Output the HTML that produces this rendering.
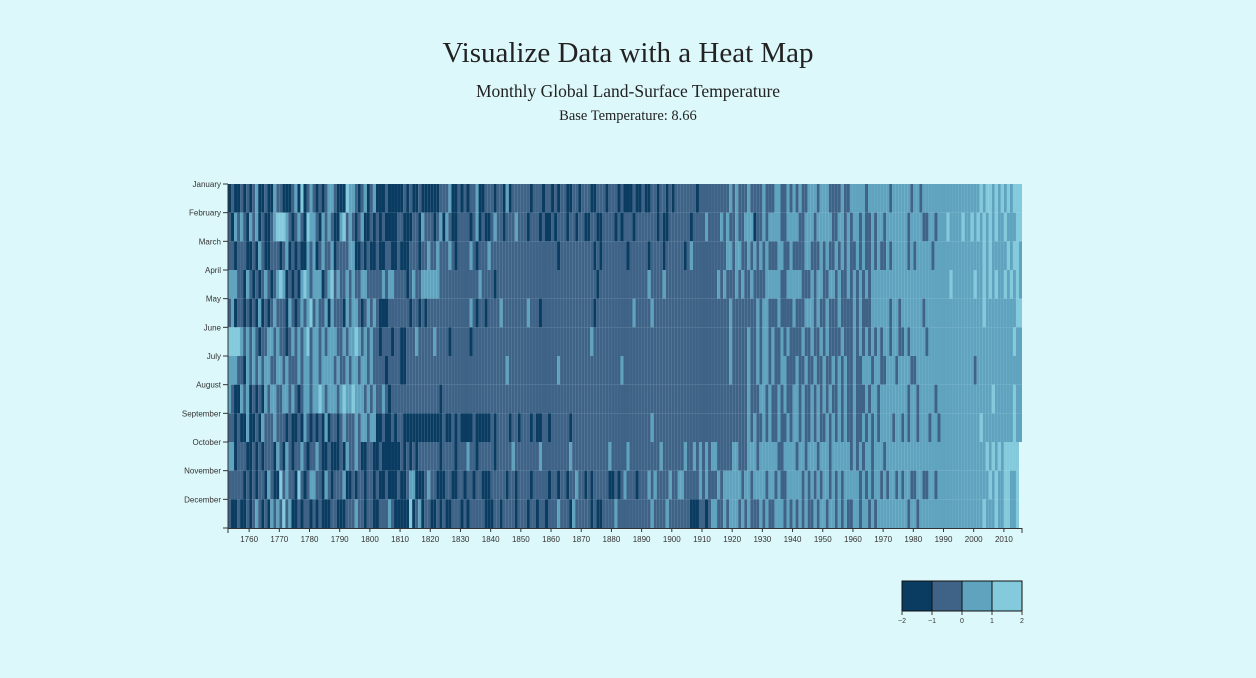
<!DOCTYPE html>
<html><head><meta charset="utf-8"><title>Heat Map</title>
<style>
html,body{margin:0;padding:0;background:#ddf8fa;width:1256px;height:678px;overflow:hidden}
.t{position:absolute;left:0;width:1256px;text-align:center;font-family:"Liberation Serif",serif;color:#222}
svg{position:absolute;left:0;top:0}
svg text{font-family:"Liberation Sans",sans-serif;fill:#333}
</style></head><body>
<div class="t" style="top:37px;font-size:29px">Visualize Data with a Heat Map</div>
<div class="t" style="top:81px;font-size:17.5px">Monthly Global Land-Surface Temperature</div>
<div class="t" style="top:108px;font-size:14.5px">Base Temperature: 8.66</div>
<svg id="chart" width="1256" height="678"></svg>
<script>
const months=["January","February","March","April","May","June","July","August","September","October","November","December"];
const yearTicks=[1760,1770,1780,1790,1800,1810,1820,1830,1840,1850,1860,1870,1880,1890,1900,1910,1920,1930,1940,1950,1960,1970,1980,1990,2000,2010];
const legendTicks=[-2,-1,0,1,2];
const binVariance=[-1.5,-0.5,0.5,1.5];
const startYear=1753;
const endYear=2015;
// per-month code strings (0 coldest .. 3 warmest), one char per year from 1753
const jan=["0100101","0120010021","1000120301","2101012210","0032210120","1200010000","0101001000","0001112001","0101120011","1011020111","1110111011","0101100110","1110011101","1101000100","1001101101","0111111101","1111111112","1211121111","2111221121","2121122212","2211112112","2222122222","2212222221","2212222222","2222222222","2232332323","232333"].join("");
const feb=["1021210","2120100123","3321012103","2210212100","2312101200","1010100001","1000110211","1012021001","1110120100","1211011121","1101110100","1011101101","1001100111","1010111011","1111101001","1111110111","1211112121","1211222011","2122221122","2211222122","2221122121","2212112122","1222222212","2221122122","2322223223","2323232322","322233"].join("");
const mar=["1101110","0102100111","0120101002","1201211201","1112200101","0010011001","0001110112","1121112101","1112101112","1111111111","1111111111","1101111111","1111010111","1111101111","1101111011","1111012111","1111111122","1221121212","1211122112","1111221112","1211212121","1212112121","1212222212","1222221222","2222222222","2223232222","232332"].join("");
const apr=["2221102","1010121012","3201010232","1222012312","1121211221","1111212211","1101211222","2221111111","1111112111","1011111111","1111111111","1111111111","1111101111","1111111111","1121111211","1111111111","1111121211","1212112111","1222221122","2221112122","1122121121","2121212222","2222222222","2222222222","2232222222","3223232322","323232"].join("");
const may=["1201101","0102010121","1102101212","3121120211","1021221012","1210001111","1110110101","1111111111","1112101101","1112111111","1121110111","1111111111","1111011111","1111111211","1112111111","1111111111","1111111112","1111111121","2211121111","2111222121","1211121111","2121112222","2212212222","2221222222","2222222222","2223222222","222233"].join("");
const jun=["3333212","1210112212","1101212123","1221212221","1212232121","2110111011","0011121111","1211110111","1110111111","1111111111","1111111111","1111111111","1112111111","1111111111","1111111111","1111111111","1111111112","1111121121","2212112121","1112112112","1211112111","2121212121","2212211212","2222122222","2222222222","2222222222","222322"].join("");
const jul=["2221102","1212122112","2121112122","1221222212","1121221221","2111101111","0011111111","1111111111","1111111111","1111121111","1111111111","1121111111","1111111111","1112111111","1111111111","1111111111","1111111112","1111121121","2212112211","1211211211","2112121211","2112221221","1222122221","1222222222","2222222222","1222222222","222222"].join("");
const aug=["2100212","0101021221","1221210122","1223212221","2322322212","1211210111","1111111111","1110111111","1111111111","1111111111","1111111111","1111111111","1111111111","1111111111","1111111111","1111111111","1111111111","1111121112","2121121211","2212112121","2121121211","2111212212","2222222212","2122222122","2222222222","2222223222","222322"].join("");
const sep=["1101002","0010211121","1101001021","0101020110","1211121221","2200100101","1000000000","0000100101","0000100000","1011110110","1110100110","1111110111","1111111111","1111111111","1112111111","1111111111","1111111111","1111121211","2121121121","2212112121","1212121211","2112121212","2221221212","2122212212","2222222222","2232222222","222322"].join("");
const oct=["2201110","0101011102","1021011210","1121001000","1021121001","1001000000","1010101111","1110111101","1121101111","1011111211","1111112111","1111112111","1111111112","1111121111","1111112111","1111211212","1212211111","2211122212","2222211222","2122122212","2212222221","2121221222","1222222222","2222222222","2222222222","2222323232","33333"].join("");
const nov=["1111101","0101102100","3121103101","2211021011","1200101101","1010010001","0012200012","1100011001","1011011000","1111101101","1110111110","1101101121","1010111110","0101211101","1121211112","1122111112","1211121222","2221221222","2122121122","2221212121","2212121222","2212121221","2122121221","1221122122","2222222222","2222232322","33223"].join("");
const dec=["1001001","0121010212","1312001011","0101000110","0011121101","1001112100","0003012011","0010100111","0101111100","0110111101","1101101101","1121110211","1110100111","1211111111","1112111121","1111110001","1012211212","2212121112","1211222121","2121211212","2122121211","2212212122","2222222212","2122222222","2222222222","2223222322","33223"].join("");
const monthCodes=[jan,feb,mar,apr,may,jun,jul,aug,sep,oct,nov,dec];

const NS="http://www.w3.org/2000/svg";
const svg=document.getElementById("chart");
const X0=228,X1=1022,Y0=184,Y1=528;
const xScale=y=>X0+(y-startYear)*(X1-X0)/(2016-startYear);
const yScale=m=>Y0+m*(Y1-Y0)/12;
const colors=["#0a3b61","#3f6387","#5fa3bf","#84cadd"];
const colorOf=v=>colors[Math.max(0,Math.min(3,Math.floor(v+2)))];
function mk(tag,attrs,parent){const e=document.createElementNS(NS,tag);for(const k in attrs)e.setAttribute(k,attrs[k]);(parent||svg).appendChild(e);return e;}

const cells=mk("g",{});


const cw=xScale(startYear+1)-xScale(startYear);
monthCodes.forEach((codes,m)=>{
  const n=Math.min(codes.length,endYear-startYear+1);
  for(let i=0;i<n;i++){
    const v=binVariance[+codes[i]];
    const r=mk("rect",{x:xScale(startYear+i),y:yScale(m),width:cw,height:yScale(m+1)-yScale(m),fill:colorOf(v)},cells);
    
    
  }
});

const ya=mk("g",{});


mk("line",{x1:X0,x2:X0,y1:Y0,y2:Y1,stroke:"#333","stroke-width":1},ya);
for(let m=0;m<=12;m++){
  mk("line",{x1:X0-5,x2:X0,y1:yScale(m),y2:yScale(m),stroke:"#333"},ya);
  if(m<12){
    const t=mk("text",{x:X0-7,y:yScale(m)+3,"text-anchor":"end","font-size":"8"},ya);
    
    
    t.textContent=months[m];
  }
}
const xa=mk("g",{});


mk("line",{x1:X0,x2:X1,y1:Y1+0.5,y2:Y1+0.5,stroke:"#333"},xa);
mk("line",{x1:X0,x2:X0,y1:Y1,y2:Y1+5,stroke:"#333"},xa);
mk("line",{x1:X1,x2:X1,y1:Y1,y2:Y1+5,stroke:"#333"},xa);
yearTicks.forEach(yr=>{
  const x=xScale(yr);
  mk("line",{x1:x,x2:x,y1:Y1,y2:Y1+4,stroke:"#333"},xa);
  const t=mk("text",{x:x,y:Y1+14,"text-anchor":"middle","font-size":"8"},xa);
  
  
  t.textContent=yr;
});
const lg=mk("g",{});


const lx=v=>902+(v+2)*30;
for(let i=0;i<4;i++){
  const r=mk("rect",{x:lx(legendTicks[i]),y:581,width:30,height:30,fill:colors[i],stroke:"#111","stroke-width":1},lg);
  
  
}
legendTicks.forEach(v=>{
  mk("line",{x1:lx(v),x2:lx(v),y1:611,y2:615,stroke:"#333"},lg);
  const t=mk("text",{x:lx(v),y:623,"text-anchor":"middle","font-size":"7"},lg);
  
  
  t.textContent=v<0?"\u2212"+(-v):v;
});
</script>
</body></html>
